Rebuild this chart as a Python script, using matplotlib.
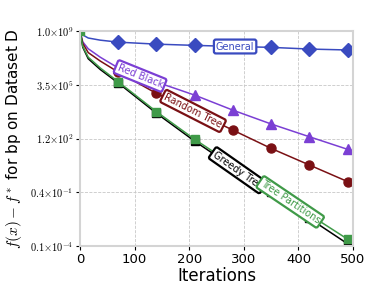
import numpy as np
import matplotlib
matplotlib.use("Agg")
import matplotlib.pyplot as plt

plt.rcParams["mathtext.fontset"] = "cm"

iters = [0, 5, 15, 37, 70, 140, 210, 280, 350, 420, 490, 500]
# log10 of f(x) - f*
general = [9, 8.75, 8.55, 8.41, 8.28, 8.15, 8.07, 8.0, 7.94, 7.83, 7.77, 7.76]
red_black = [9, 8.3, 7.85, 7.3, 6.6, 5.68, 4.83, 3.85, 2.95, 2.12, 1.3, 1.2]
random_tree = [9, 8.2, 7.6, 7.05, 6.33, 4.94, 3.75, 2.55, 1.36, 0.28, -0.8, -0.9]
greedy_tree = [9, 7.95, 7.2, 6.5, 5.62, 3.65, 1.83, 0.15, -1.5, -3.2, -4.85, -5.08]
tree_part = [9, 8.0, 7.3, 6.6, 5.7, 3.75, 1.95, 0.3, -1.3, -2.95, -4.55, -4.78]

ytick_pos = [9, 5.5, 2, -1.5, -5]
ytick_lab = [r"$1.0{\times}10^{9}$", r"$3.5{\times}10^{5}$", r"$1.2{\times}10^{2}$",
             r"$0.4{\times}10^{-1}$", r"$0.1{\times}10^{-4}$"]

series = [
    ("General", general, "#3a4bc0", "D", 7, 284, 0),
    ("Red Black", red_black, "#7b3fd4", "^", 6.5, 110, -22),
    ("Random Tree", random_tree, "#7a1014", "o", 6.5, 207, -27),
    ("Greedy Tree", greedy_tree, "#000000", "s", 6, 289, -35),
    ("Tree Partitions", tree_part, "#3f9a48", "s", 6, 385, -34),
]

fig = plt.figure(figsize=(3.74, 2.99), dpi=100)
ax = fig.add_axes([0.214, 0.177, 0.730, 0.719])
marks = [4, 5, 6, 7, 8, 9, 10]

for name, vals, col, mk, ms, lx, rot in series:
    y = 10.0 ** np.array(vals)
    me = [0] + marks if name == "Tree Partitions" else marks
    ax.plot(iters, y, color=col, lw=1.1, marker=mk, ms=ms, markevery=me)
    ly = 10.0 ** np.interp(lx, iters, vals)
    ax.text(lx, ly, name, color=col, fontsize=7, rotation=rot,
            ha="center", va="center", rotation_mode="anchor",
            bbox=dict(boxstyle="round,pad=0.2", fc="white", ec=col, lw=1.6))

ax.set_yscale("log")
ax.set_xlim(0, 500)
ax.set_ylim(10.0 ** -5, 10.0 ** 9)
ax.set_xticks([0, 100, 200, 300, 400, 500])
ax.set_yticks([10.0 ** p for p in ytick_pos])
ax.set_yticklabels(ytick_lab, fontsize=7.5)
ax.minorticks_off()
ax.tick_params(axis="x", labelsize=9.5, length=3, pad=2)
ax.tick_params(axis="y", length=3, pad=2)
ax.grid(True, ls="--", lw=0.6, color="#c8c8c8")
for s in ax.spines.values():
    s.set_color("#d4d4d4")
    s.set_linewidth(1.5)

ax.set_xlabel("Iterations", fontsize=12, labelpad=1)
ax.set_ylabel(r"$f(x) - f^*$ for bp on Dataset D", fontsize=11, labelpad=4)

fig.savefig("out.png", dpi=100)
